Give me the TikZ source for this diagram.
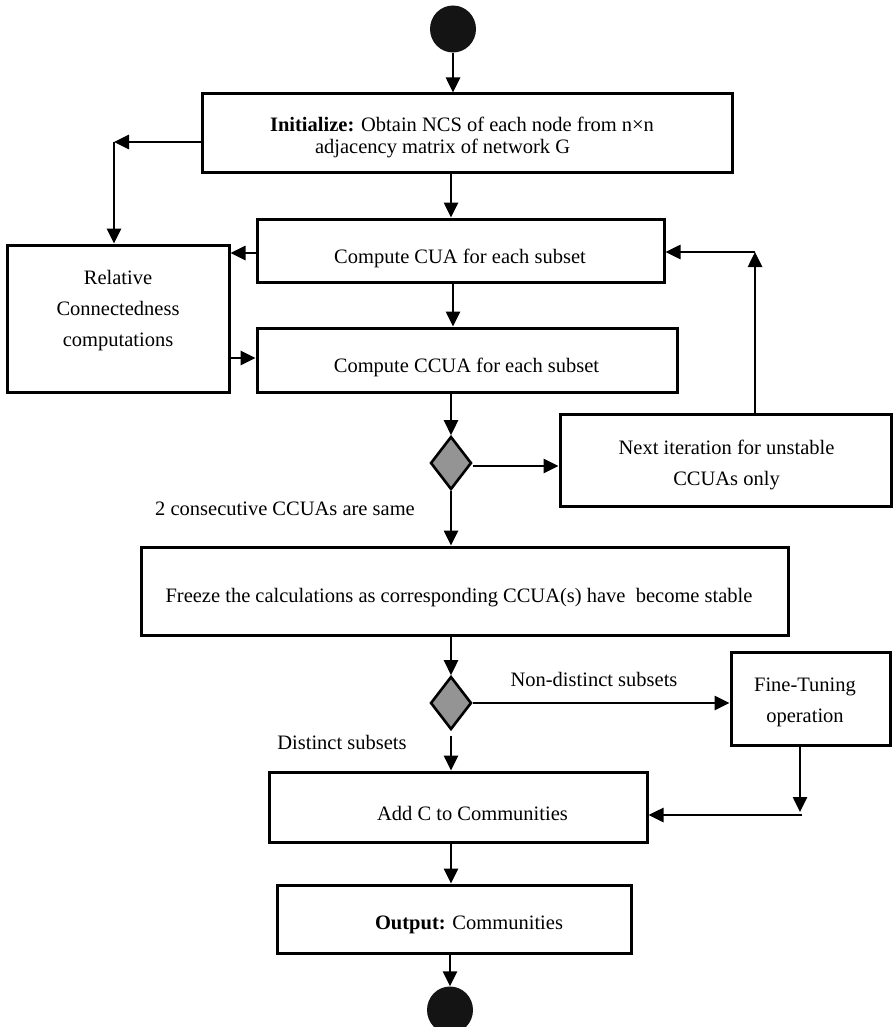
\documentclass[tikz,border=0pt]{standalone}
\usepackage{fontspec}
\setmainfont{Liberation Serif}
\usetikzlibrary{arrows.meta,shapes.geometric}
\begin{document}
\begin{tikzpicture}[x=1pt,y=-1pt,
  every node/.style={font=\fontsize{20.5}{31}\selectfont},
  box/.style={draw,line width=3pt,fill=white,inner sep=0pt},
  dec/.style={diamond,draw,line width=2.6pt,fill=black!42,inner sep=0pt,minimum width=41pt,minimum height=53pt},
  term/.style={ellipse,fill=black!92,minimum width=46pt,minimum height=47pt,inner sep=0pt},
  arr/.style={line width=2.6pt,-{Triangle[length=15pt,width=14pt]}},
  txt/.style={align=center,inner sep=0pt},
  elabel/.style={inner sep=0pt}
]
\useasboundingbox (0,0) rectangle (892,1027);

% terminals
\node[term] (start) at (453,29) {};
\node[term] (end) at (450,1010) {};

% boxes
\node[box,minimum width=530pt,minimum height=79pt,
  label={[txt,align=left,font=\fontsize{20.5}{22.5}\selectfont,shift={(-5,4)}]center:{\textbf{Initialize:} Obtain NCS of each node from n×n\\\hspace*{45pt}adjacency matrix of network G}}]
  (init) at (467,133.5) {};
\node[box,minimum width=407pt,minimum height=63pt,
  label={[txt,shift={(-0.5,7.5)}]center:Compute CUA for each subset}]
  (cua) at (460.5,250.5) {};
\node[box,minimum width=222pt,minimum height=147pt,
  label={[txt,shift={(0,-7.5)}]center:{Relative\\Connectedness\\computations}}]
  (rel) at (118,318.5) {};
\node[box,minimum width=420pt,minimum height=64pt,
  label={[txt,shift={(-0.5,7)}]center:Compute CCUA for each subset}]
  (ccua) at (467,360) {};
\node[dec] (d1) at (451,463) {};
\node[box,minimum width=331pt,minimum height=92pt,
  label={[txt,shift={(1,4.5)}]center:{Next iteration for unstable\\CCUAs only}}]
  (next) at (725.5,460) {};
\node[box,minimum width=647pt,minimum height=88pt,
  label={[txt,shift={(-5.5,7)}]center:{Freeze the calculations as corresponding CCUA(s) have\ \ become stable}}]
  (freeze) at (464.5,591) {};
\node[dec] (d2) at (451,703) {};
\node[box,minimum width=159pt,minimum height=93pt,
  label={[txt,shift={(-5.5,4)}]center:{Fine-Tuning\\operation}}]
  (fine) at (810.5,698.5) {};
\node[box,minimum width=378pt,minimum height=70pt,
  label={[txt,shift={(14.5,6)}]center:Add C to Communities}]
  (add) at (458,807) {};
\node[box,minimum width=354pt,minimum height=68pt,
  label={[txt,shift={(15,6)}]center:{\textbf{Output:} Communities}}]
  (out) at (454,919) {};

% edge labels
\node[elabel] (lsame) at (285,509) {2 consecutive CCUAs are same};
\node[elabel] (lnon) at (594,679) {Non-distinct subsets};
\node[elabel] (ldist) at (342,742) {Distinct subsets};

% helper coordinates
\coordinate (k1) at (114,142);
\coordinate (k2) at (755,252);
\coordinate (k3) at (800,815);

% connectors
\draw[arr] (start.south) -- (start.south |- init.north);
\draw[arr] (init.west |- k1) -- (k1);
\draw[arr] (k1) -- (k1 |- rel.north);
\draw[arr] (init.south -| d1) -- (cua.north -| d1);
\draw[arr] ([yshift=-2.5pt]cua.west) -- ([yshift=-2.5pt]cua.west -| rel.east);
\draw[arr] ([yshift=2pt]rel.east |- ccua.west) -- ([yshift=2pt]ccua.west);
\draw[arr] ([xshift=2pt]cua.south -| d1) -- ([xshift=2pt]ccua.north -| d1);
\draw[arr] (ccua.south -| d1) -- (d1.north);
\draw[arr] ([yshift=-3pt]d1.east) -- ([yshift=-3pt]d1.east -| next.west);
\draw[arr] (next.north -| k2) -- (k2);
\draw[arr] (k2) -- (k2 -| cua.east);
\draw[arr] (d1.south) -- (freeze.north -| d1);
\draw[arr] (freeze.south -| d2) -- (d2.north);
\draw[arr] (d2.east) -- (d2.east -| fine.west);
\draw[arr,shorten <=5pt] (d2.south) -- (add.north -| d2);
\draw[arr] (fine.south -| k3) -- ([yshift=3pt]k3);
\draw[arr] ([xshift=2pt]k3) -- (k3 -| add.east);
\draw[arr] (add.south -| d2) -- (out.north -| d2);
\draw[arr] (out.south -| end) -- (end.north);
\end{tikzpicture}
\end{document}
